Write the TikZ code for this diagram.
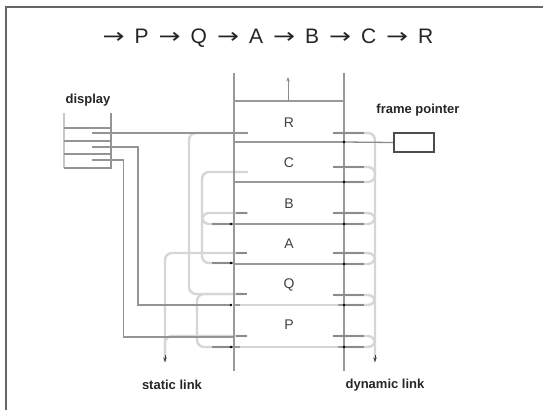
\documentclass[tikz,border=0pt]{standalone}
\usepackage{fontspec}
\setmainfont{Liberation Sans}
\newfontfamily\arrfont{DejaVu Sans}
\usetikzlibrary{arrows.meta}
\newcommand{\tarr}{\hspace{10pt}\scalebox{1.25}[1]{\arrfont →}\hspace{10pt}}
\begin{document}
\begin{tikzpicture}[x=1pt,y=-1pt,
  stk/.style={draw=black!40,line width=1.6},
  lnk/.style={draw=black!16,line width=2.4,rounded corners=7},
  slotln/.style={draw=black!45,line width=1.3},
  disp/.style={draw=black!42,line width=1.6},
  dotm/.style={circle,fill=black,inner sep=0pt,minimum size=2.6},
  lbl/.style={font=\fontsize{13}{13}\selectfont\bfseries,text=black!85,inner sep=0pt},
  frm/.style={font=\fontsize{14}{14}\selectfont,text=black!75,inner sep=0pt},
  tip/.style={-{Stealth[length=4.5,width=3.5]},draw=black!75,line width=1}]
\useasboundingbox (0,0) rectangle (543,410);
\fill[white] (0,0) rectangle (543,410);
\draw[black!60,line width=1.3] (6,410) -- (6,7) -- (543,7);

% title
\node[anchor=base,inner sep=0pt,font=\fontsize{21}{21}\selectfont,text=black!85] (title) at (268,43)
 {\scalebox{1.25}[1]{\arrfont →}\hspace{10pt}P\tarr Q\tarr A\tarr B\tarr C\tarr R};

% named points
\coordinate (d1) at (92,133);
\coordinate (d2) at (92,147);
\coordinate (d3) at (92,160);
\coordinate (sR) at (248,133);
\coordinate (sC) at (248,172);
\coordinate (sB) at (248,213);
\coordinate (sA) at (244,253);
\coordinate (sQ) at (243,294);
\coordinate (sP) at (247,336);
\coordinate (bB) at (231,224);
\coordinate (bA) at (231,263);
\coordinate (bQ) at (231,305);
\coordinate (bP) at (231,347);
\coordinate (stEnd) at (165,362);
\coordinate (dyEnd) at (375,362);

% ---------- light links (drawn first) ----------
% static links, left
\draw[lnk] (sR) -| (189,294) -- (sQ);
\draw[lnk] (sC) -| (202,224) -- (bB);
\draw[lnk] (sB) -| (202,263) -- (bA);
\draw[lnk] (sA) -| (stEnd);
\draw[lnk] (sQ) -| (197,347) -- (bP);
\draw[lnk] (sP) -| (stEnd);
% dynamic links, right
\draw[lnk] (335,133) -| (375,182) -- (344,182);
\draw[lnk] (335,167) -| (375,224) -- (344,224);
\draw[lnk] (335,213) -| (375,264) -- (344,264);
\draw[lnk] (335,253) -| (375,305) -- (344,305);
\draw[lnk] (335,295) -| (375,347) -- (344,347);
\draw[lnk] (335,336) -| (dyEnd);

% ---------- stack ----------
\draw[stk] (234,73) -- (234,371);
\draw[stk] (344,73) -- (344,371);
\foreach \y in {101,142,182,224,264} \draw[stk] (234,\y) -- (344,\y);
\foreach \y in {305,347} {\draw[stk] (234,\y) -- (344,\y); \draw[draw=black!16,line width=2.4] (240,\y) -- (338,\y);}
\draw[tip,draw=black!45] (288,101) -- (288,77);

% frame labels
\node[frm] (R) at (289,123) {R};
\node[frm] (C) at (289,163) {C};
\node[frm] (B) at (289,204) {B};
\node[frm] (A) at (289,244) {A};
\node[frm] (Q) at (289,285) {Q};
\node[frm] (P) at (289,325) {P};

% slot lines
\foreach \y in {133,167,213,253,295,336} \draw[slotln] (333,\y) -- (364,\y);
\foreach \y in {182,224,264,305,347} \draw[slotln] (344,\y) -- (364,\y);
\foreach \y in {213,253,294,336} \draw[slotln] (236,\y) -- (247,\y);
\foreach \y in {224,263,347} \draw[slotln] (212,\y) -- (234,\y);

% frame pointer
\node[draw=black!70,line width=2.2,minimum width=40,minimum height=19,inner sep=0pt] (fp) at (414,142.5) {};
\coordinate (fpt) at (344,142);
\draw[slotln] (fpt) -- (fp.west);
\node[lbl] (fplbl) at (418,110) {frame pointer};

% display
\draw[disp,draw=black!22] (64,113) -- (64,168);
\draw[disp] (64,168) -- (111,168) -- (111,113);
\foreach \y in {128,141,154} \draw[disp] (64,\y) -- (111,\y);
\node[lbl] (displbl) at (88,100) {display};
\draw[disp] (d1) -- (sR);
\draw[disp] (d2) -| (138,305) -- (bQ);
\draw[disp] (d3) -| (123.5,337) -- (234,337);

% arrow tips
\draw[tip] (165,355) -- (stEnd);
\draw[tip] (375,355) -- (dyEnd);

% dots
\foreach \y in {142,182,224,264,305,347} \node[dotm] at (344,\y) {};
\foreach \y in {224,263,305,347} \node[dotm] at (231,\y) {};

% bottom labels
\node[lbl] (stlbl) at (172,385) {static link};
\node[lbl] (dylbl) at (385,385) {dynamic link};
\end{tikzpicture}
\end{document}
